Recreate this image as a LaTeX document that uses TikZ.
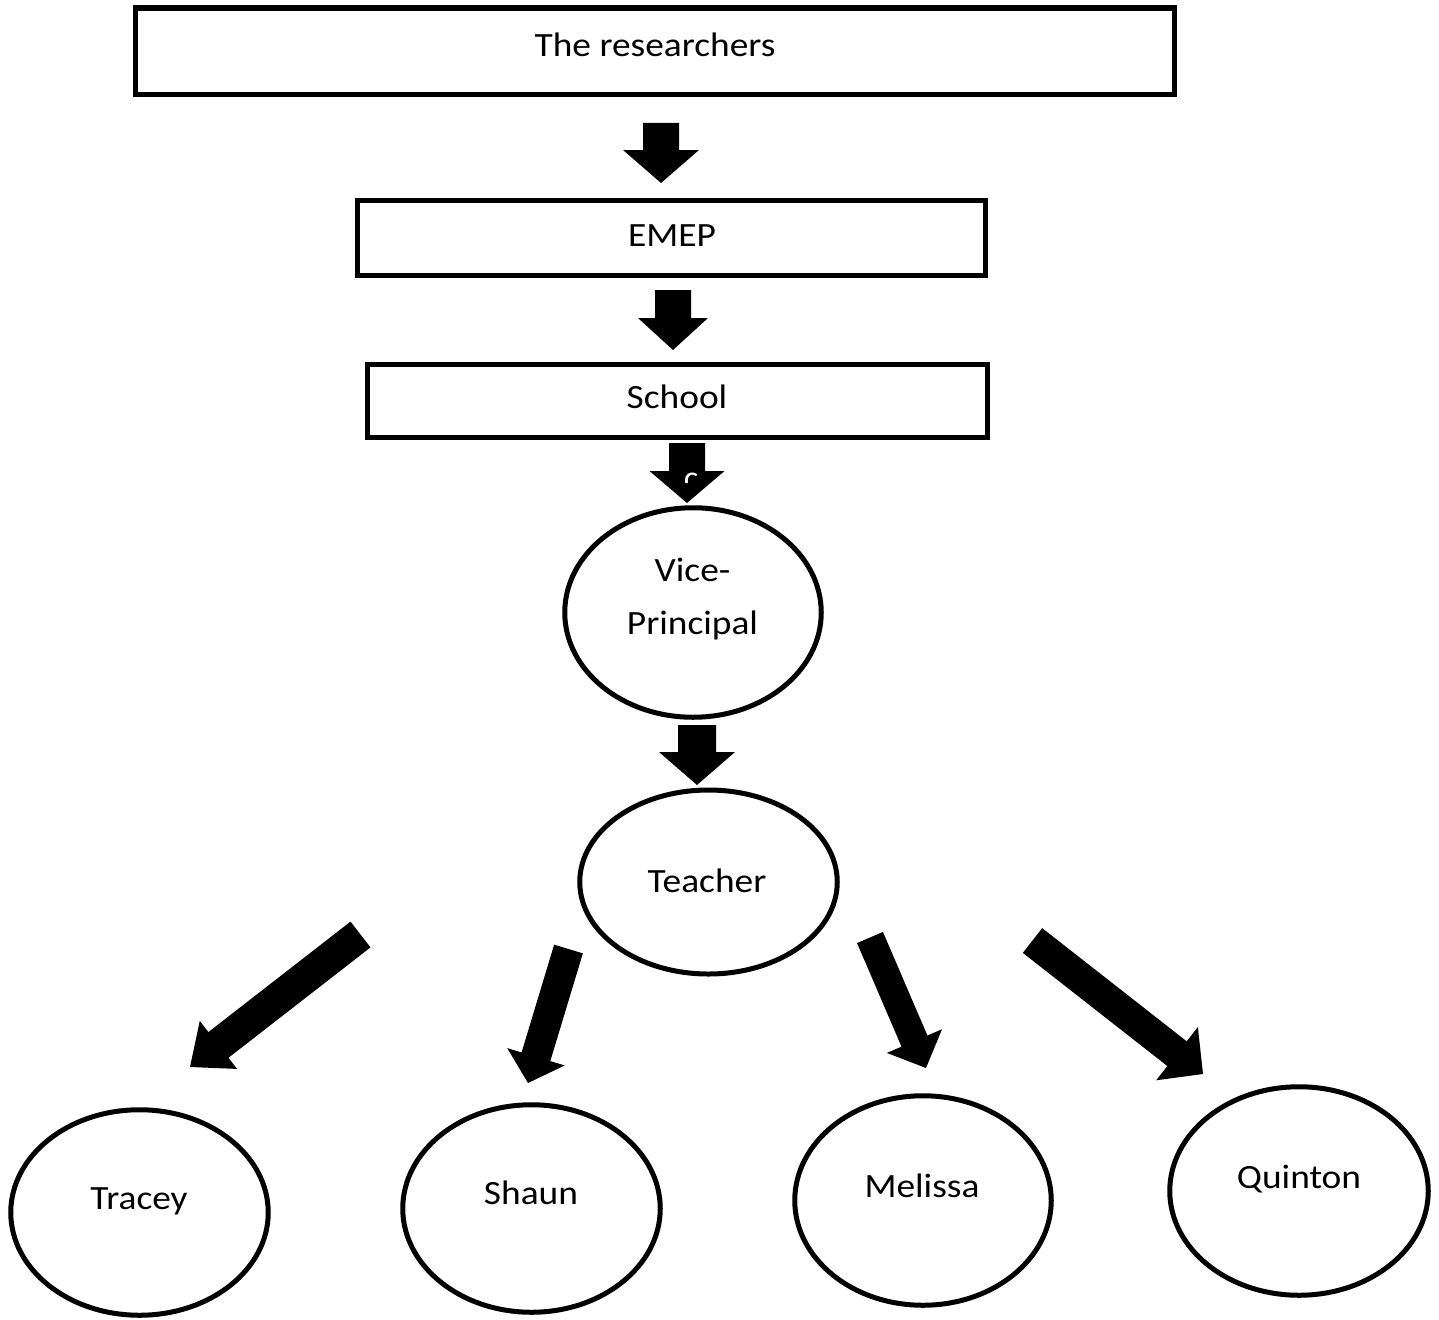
\documentclass[tikz,border=0pt]{standalone}
\usepackage{graphicx}
\usepackage{fontspec}
\setmainfont{Carlito}
\usetikzlibrary{shapes.geometric,calc}
\newcommand\sx[1]{\scalebox{1.1}[1]{#1}}
\newcommand\blockarrow[6]{% #1 tail, #2 tip, #3 half shaft, #4 half head, #5 head length, #6 id
  \coordinate (#6base) at ($(#2)!#5!(#1)$);
  \fill[black] ($(#1)!#3!90:(#2)$) -- ($(#6base)!#3!90:(#2)$) -- ($(#6base)!#4!90:(#2)$) -- (#2)
    -- ($(#6base)!#4!-90:(#2)$) -- ($(#6base)!#3!-90:(#2)$) -- ($(#1)!#3!-90:(#2)$) -- cycle;}
\begin{document}
\begin{tikzpicture}[x=1pt,y=-1pt,
  box/.style={draw=black,line width=5.5pt,rectangle,inner sep=0pt},
  oval/.style={draw=black,line width=5pt,ellipse,inner sep=0pt},
  lbl/.style={anchor=base,inner sep=0pt,font=\fontsize{34}{53}\selectfont,align=center}]
\useasboundingbox (0,0) rectangle (1439,1319);
\fill[white] (0,0) rectangle (1439,1319);
% boxes
\node[box,minimum width=1039pt,minimum height=86.5pt] (res) at (655,51.25) {};
\node[lbl] (tres) at (655,57) {\sx{The researchers}};
\node[box,minimum width=628pt,minimum height=75pt] (emep) at (671.5,238) {};
\node[lbl] (temep) at (672,246.7) {\sx{EMEP}};
\node[box,minimum width=620pt,minimum height=73pt] (school) at (677.5,401) {};
\node[lbl] (tschool) at (677,408) {\sx{School}};
% ellipses
\node[oval,minimum width=256.5pt,minimum height=209.5pt] (vp) at (693,612.5) {};
\node[lbl] (tvp1) at (692.5,581.7) {\sx{Vice-}};
\node[lbl] (tvp2) at (692.5,634) {\sx{Principal}};
\node[oval,minimum width=257.5pt,minimum height=184pt] (teacher) at (708.5,882) {};
\node[lbl] (tteacher) at (707,892.7) {\sx{Teacher}};
\node[oval,minimum width=257.5pt,minimum height=205.5pt] (tracey) at (139.5,1212.5) {};
\node[lbl] (ttracey) at (139,1209) {\sx{Tracey}};
\node[oval,minimum width=257.5pt,minimum height=207.5pt] (shaun) at (531.5,1208.5) {};
\node[lbl] (tshaun) at (531,1204) {\sx{Shaun}};
\node[oval,minimum width=256.5pt,minimum height=209.5pt] (melissa) at (923,1200.5) {};
\node[lbl] (tmelissa) at (922,1197) {\sx{Melissa}};
\node[oval,minimum width=258.5pt,minimum height=208.5pt] (quinton) at (1299,1191) {};
\node[lbl] (tquinton) at (1299,1188) {\sx{Quinton}};
% arrow end points
\coordinate (a1t) at (661,123);  \coordinate (a1h) at (661,183);
\coordinate (a2t) at (673,290);  \coordinate (a2h) at (673,350);
\coordinate (a3t) at (687,443);  \coordinate (a3h) at (687,503);
\coordinate (a4t) at (697,725);  \coordinate (a4h) at (697,785);
\coordinate (att) at (360.5,934.5); \coordinate (ath) at (190,1067);
\coordinate (ast) at (568.5,949);   \coordinate (ash) at (528,1083);
\coordinate (amt) at (870,937.5);   \coordinate (amh) at (926,1068);
\coordinate (aqt) at (1032.5,940.5);\coordinate (aqh) at (1203,1074);
\blockarrow{a1t}{a1h}{18pt}{38pt}{33pt}{A}
\blockarrow{a2t}{a2h}{18pt}{35pt}{32pt}{B}
\blockarrow{a3t}{a3h}{18pt}{37.5pt}{32pt}{C}
\blockarrow{a4t}{a4h}{19pt}{38pt}{33pt}{D}
\blockarrow{att}{ath}{16.3pt}{30.4pt}{36pt}{E}
\blockarrow{ast}{ash}{15pt}{30pt}{27.4pt}{F}
\blockarrow{amt}{amh}{14.1pt}{30pt}{29.3pt}{G}
\blockarrow{aqt}{aqh}{15.7pt}{33.8pt}{33pt}{H}
% small white character inside arrow
\begin{scope}
\clip (675,465) rectangle (705,482.5);
\node[text=white,inner sep=0pt,anchor=base,font=\fontsize{34}{34}\selectfont] (cc) at (691,489) {c};
\end{scope}
\end{tikzpicture}
\end{document}
